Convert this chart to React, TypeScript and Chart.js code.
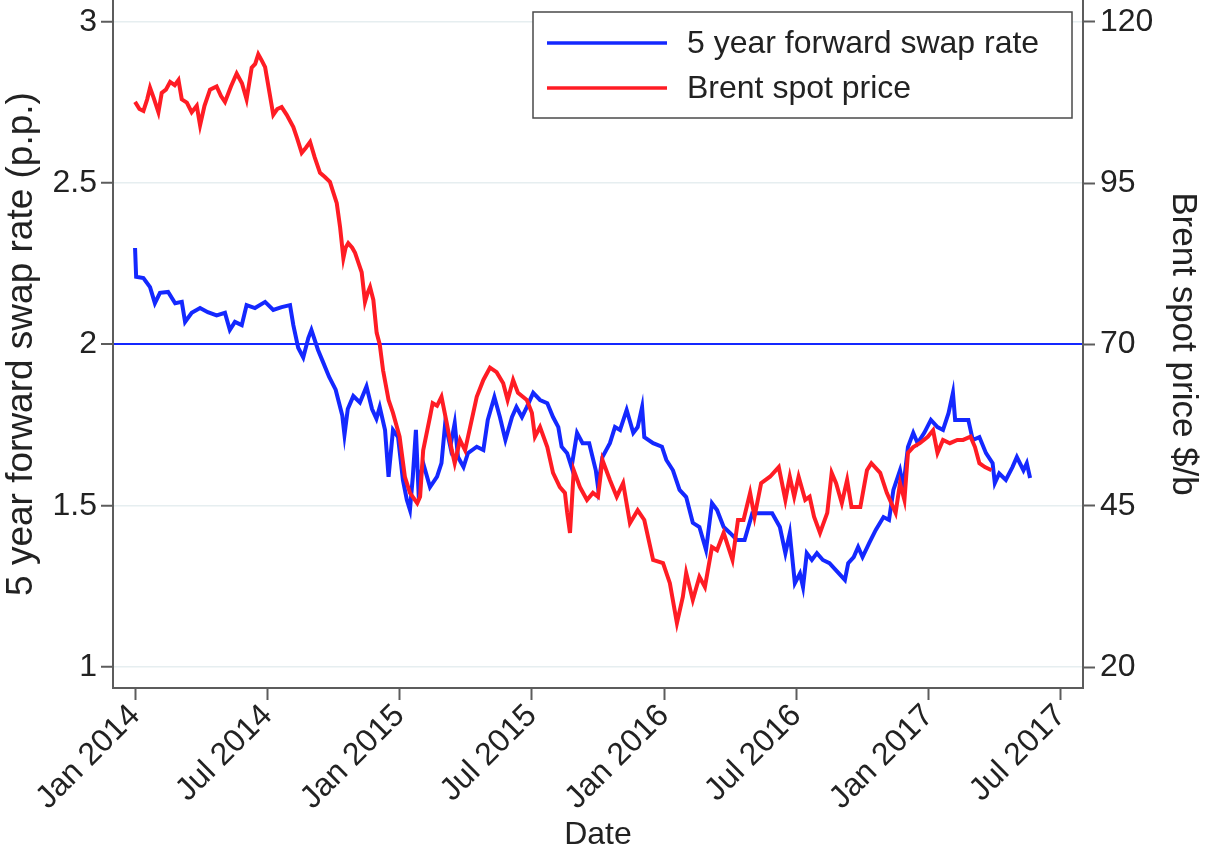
import React, { useEffect, useRef } from "react";
import { Chart, registerables } from "chart.js";

Chart.register(...registerables);

// ---- Data (months since Jan 2014) ----
const xTickMonths = [0, 6, 12, 18, 24, 30, 36, 42];
const xTickLabels = ["Jan 2014", "Jul 2014", "Jan 2015", "Jul 2015", "Jan 2016", "Jul 2016", "Jan 2017", "Jul 2017"];
const leftTicks = [1, 1.5, 2, 2.5, 3];
const rightTicks = [20, 45, 70, 95, 120];
const referenceLevel = 2;
const seriesNames = ["5 year forward swap rate", "Brent spot price"];

const swapMonths = [
  0, 0.05, 0.38, 0.68, 0.9, 1.13, 1.5, 1.82, 2.12, 2.27, 2.57, 2.95, 3.3, 3.7, 4.08, 4.3, 4.53, 4.84, 5.06, 5.44,
  5.9, 6.27, 6.65, 7.03, 7.18, 7.4, 7.63, 7.86, 8.0, 8.3, 8.5, 8.8, 9.1, 9.4, 9.5, 9.65, 9.9, 10.2, 10.5, 10.75,
  10.95, 11.1, 11.34, 11.5, 11.7, 11.93, 12.15, 12.33, 12.47, 12.6, 12.74, 12.85, 13.07, 13.38, 13.7, 13.9, 14.07, 14.3, 14.5, 14.65,
  14.9, 15.1, 15.5, 15.8, 16.0, 16.3, 16.55, 16.8, 17.1, 17.3, 17.55, 17.77, 18.06, 18.37, 18.7, 18.96, 19.2, 19.35, 19.6, 19.8,
  20.05, 20.3, 20.6, 20.9, 21.0, 21.2, 21.54, 21.77, 22.0, 22.3, 22.6, 22.8, 23.0, 23.1, 23.5, 23.9, 24.1, 24.4, 24.7, 25.0,
  25.3, 25.6, 25.9, 26.17, 26.4, 26.7, 27.0, 27.3, 27.65, 28.0, 28.5, 28.9, 29.25, 29.5, 29.7, 29.93, 30.16, 30.3, 30.47, 30.7,
  30.93, 31.2, 31.5, 31.8, 32.2, 32.35, 32.6, 32.8, 33.0, 33.3, 33.6, 33.95, 34.2, 34.4, 34.7, 34.85, 35.06, 35.3, 35.5, 35.8,
  36.1, 36.4, 36.65, 36.9, 37.1, 37.2, 37.5, 37.8, 38.0, 38.3, 38.6, 38.9, 39.0, 39.2, 39.5, 39.8, 40.0, 40.3, 40.45, 40.6,
];
const swapRate = [
  2.299, 2.21, 2.206, 2.178, 2.128, 2.16, 2.163, 2.128, 2.132, 2.07, 2.098, 2.113, 2.1, 2.09, 2.098, 2.045, 2.07, 2.06, 2.122, 2.113,
  2.132, 2.107, 2.116, 2.122, 2.06, 1.99, 1.96, 2.02, 2.045, 1.983, 1.95, 1.9, 1.86, 1.78, 1.72, 1.8, 1.84, 1.82, 1.87, 1.8,
  1.77, 1.806, 1.735, 1.59, 1.735, 1.713, 1.58, 1.518, 1.487, 1.59, 1.735, 1.558, 1.632, 1.558, 1.59, 1.632, 1.756, 1.683, 1.756, 1.651,
  1.62, 1.663, 1.683, 1.673, 1.766, 1.837, 1.775, 1.704, 1.775, 1.806, 1.775, 1.806, 1.85, 1.828, 1.818, 1.775, 1.744, 1.683, 1.663, 1.62,
  1.726, 1.694, 1.694, 1.61, 1.558, 1.651, 1.694, 1.744, 1.735, 1.797, 1.726, 1.744, 1.806, 1.713, 1.694, 1.683, 1.642, 1.61, 1.549, 1.527,
  1.447, 1.434, 1.363, 1.508, 1.487, 1.434, 1.415, 1.394, 1.394, 1.477, 1.477, 1.477, 1.434, 1.353, 1.415, 1.26, 1.29, 1.248, 1.353, 1.332,
  1.353, 1.332, 1.322, 1.3, 1.27, 1.322, 1.341, 1.372, 1.341, 1.384, 1.425, 1.465, 1.456, 1.549, 1.61, 1.558, 1.682, 1.726, 1.694, 1.726,
  1.766, 1.744, 1.735, 1.787, 1.85, 1.766, 1.766, 1.766, 1.704, 1.713, 1.663, 1.632, 1.57, 1.6, 1.58, 1.62, 1.651, 1.61, 1.632, 1.586,
];

const brentMonths = [
  0, 0.2, 0.38, 0.55, 0.68, 0.85, 1.06, 1.21, 1.4, 1.59, 1.8, 1.97, 2.12, 2.35, 2.57, 2.8, 2.95, 3.15, 3.4, 3.7,
  3.9, 4.08, 4.35, 4.61, 4.85, 5.06, 5.29, 5.45, 5.59, 5.75, 5.9, 6.1, 6.27, 6.45, 6.65, 6.88, 7.18, 7.35, 7.56, 7.75,
  7.94, 8.15, 8.39, 8.6, 8.84, 9.0, 9.15, 9.3, 9.45, 9.55, 9.67, 9.85, 9.98, 10.15, 10.28, 10.43, 10.55, 10.66, 10.81, 10.96,
  11.1, 11.25, 11.5, 11.7, 12.0, 12.24, 12.47, 12.8, 12.93, 13.07, 13.38, 13.5, 13.7, 13.9, 14.14, 14.37, 14.5, 14.74, 14.97, 15.2,
  15.5, 15.8, 16.1, 16.4, 16.7, 16.9, 17.15, 17.37, 17.77, 18.0, 18.14, 18.37, 18.7, 18.96, 19.27, 19.5, 19.6, 19.73, 19.9, 20.18,
  20.5, 20.77, 21.0, 21.2, 21.54, 21.85, 22.14, 22.45, 22.8, 23.1, 23.5, 23.95, 24.26, 24.58, 24.85, 25.0, 25.3, 25.6, 25.85, 26.17,
  26.4, 26.7, 27.1, 27.35, 27.6, 27.9, 28.1, 28.4, 28.8, 29.2, 29.5, 29.7, 29.9, 30.1, 30.4, 30.6, 30.8, 31.07, 31.4, 31.6,
  31.8, 32.06, 32.3, 32.5, 32.9, 33.2, 33.4, 33.8, 34.1, 34.5, 34.7, 34.9, 35.06, 35.3, 35.6, 35.96, 36.2, 36.4, 36.65, 36.96,
  37.3, 37.56, 37.9, 38.1, 38.3, 38.55, 38.85,
];
const brentPrice = [
  107.6, 106.5, 106.2, 108, 109.8, 108.2, 106, 109, 109.5, 110.7, 110.2, 111, 108, 107.5, 106, 107, 104, 107, 109.5, 110,
  108.5, 107.6, 110, 112, 110.5, 108, 112.9, 113.5, 115, 114, 113, 109, 105.6, 106.5, 106.8, 105.6, 103.7, 102, 99.7, 100.5,
  101.4, 99, 96.6, 96, 95.2, 93.5, 91.9, 88.2, 83.4, 85, 85.7, 85, 84.2, 82.5, 81.2, 76.6, 78, 78.9, 76.9, 71.8,
  70, 66, 61.4, 59.4, 55.7, 49.5, 47, 45.4, 46.4, 53.6, 58.8, 60.9, 60.5, 61.9, 57.8, 53.6, 51.6, 55.2, 53.6, 57.2,
  61.9, 64.5, 66.4, 65.7, 64, 61.4, 64.5, 62.5, 61.4, 59.4, 55.7, 57.2, 54.1, 50.1, 47.9, 47, 44, 40.8, 50.5, 47.9,
  45.9, 47, 46.4, 52.1, 49, 46.4, 48.5, 42.3, 44.3, 42.8, 36.6, 36.1, 33, 26.8, 30.9, 34.6, 30.4, 34, 32.4, 38.6,
  38.1, 40.8, 36.6, 42.8, 42.8, 47, 43.3, 48.5, 49.5, 51, 45.9, 49.5, 46.4, 49.5, 45.9, 46.4, 43.3, 40.8, 43.9, 50.1,
  48.5, 45.4, 49, 44.8, 44.8, 50.5, 51.6, 50.1, 47, 43.9, 48.5, 45.9, 53.2, 54.1, 54.7, 55.7, 56.7, 53.2, 55.2, 54.7,
  55.2, 55.2, 55.7, 54.1, 51.6, 51, 50.5,
];

const BLUE = "rgb(20, 40, 255)";
const RED = "rgb(255, 28, 36)";
const AXIS = "#5c5c5c";
const TEXT = "#222222";
const GRID = "#e6eef0";
const FONT = "'Liberation Sans', Arial, Helvetica, sans-serif";

const legendBoxPlugin = {
  id: "legendBox",
  afterDraw(chart: any) {
    const { ctx, chartArea } = chart;
    const w = 539;
    const h = 106;
    const x0 = chartArea.right - 11 - w;
    const y0 = chartArea.top + 12;
    ctx.save();
    ctx.fillStyle = "#ffffff";
    ctx.fillRect(x0, y0, w, h);
    ctx.strokeStyle = "#4a4a4a";
    ctx.lineWidth = 1.5;
    ctx.strokeRect(x0, y0, w, h);
    chart.data.datasets.forEach((ds: any, i: number) => {
      const y = y0 + 31 + i * 45;
      ctx.strokeStyle = ds.borderColor;
      ctx.lineWidth = 3.5;
      ctx.beginPath();
      ctx.moveTo(x0 + 14, y);
      ctx.lineTo(x0 + 134, y);
      ctx.stroke();
      ctx.fillStyle = TEXT;
      ctx.font = `32px ${FONT}`;
      ctx.textAlign = "left";
      ctx.textBaseline = "middle";
      ctx.fillText(ds.label, x0 + 154, y + 1);
    });
    ctx.restore();
  },
};

export default function App() {
  const canvasRef = useRef<HTMLCanvasElement | null>(null);

  useEffect(() => {
    const canvas = canvasRef.current;
    if (!canvas) return;
    Chart.defaults.font.family = FONT;
    Chart.defaults.color = TEXT;

    const toRight = (v: number) => 20 + (v - 1) * 50;
    const leftMin = 0.935;
    const leftMax = 3.068;

    const chart = new Chart(canvas, {
      type: "line",
      data: {
        datasets: [
          {
            label: seriesNames[0],
            data: swapMonths.map((m, i) => ({ x: m, y: swapRate[i] })),
            borderColor: BLUE,
            backgroundColor: BLUE,
            borderWidth: 4,
            pointRadius: 0,
            tension: 0,
            yAxisID: "y",
            order: 2,
          },
          {
            label: seriesNames[1],
            data: brentMonths.map((m, i) => ({ x: m, y: brentPrice[i] })),
            borderColor: RED,
            backgroundColor: RED,
            borderWidth: 4,
            pointRadius: 0,
            tension: 0,
            yAxisID: "y1",
            order: 1,
          },
        ],
      },
      options: {
        animation: false,
        responsive: false,
        maintainAspectRatio: false,
        devicePixelRatio: 1,
        layout: { padding: { top: 0, left: 0, right: 0, bottom: 0 } },
        plugins: {
          legend: { display: false },
          tooltip: { enabled: false },
        },
        scales: {
          x: {
            type: "linear",
            min: -1,
            max: 43,
            afterBuildTicks: (scale: any) => {
              scale.ticks = xTickMonths.map((v) => ({ value: v }));
            },
            afterFit: (scale: any) => {
              scale.height = 176;
              scale.paddingLeft = 0;
              scale.paddingRight = 0;
            },
            ticks: {
              autoSkip: false,
              minRotation: 45,
              maxRotation: 45,
              padding: -3,
              font: { size: 32 },
              color: TEXT,
              callback: (v: any) => {
                const idx = xTickMonths.indexOf(Number(v));
                return idx >= 0 ? xTickLabels[idx] : "";
              },
            },
            grid: {
              drawOnChartArea: false,
              drawTicks: true,
              tickLength: 12,
              tickColor: AXIS,
              tickWidth: 2,
            },
            border: { color: AXIS, width: 2 },
            title: {
              display: true,
              text: "Date",
              font: { size: 32 },
              color: TEXT,
              padding: { top: 0, bottom: 10 },
            },
          },
          y: {
            type: "linear",
            position: "left",
            min: leftMin,
            max: leftMax,
            afterBuildTicks: (scale: any) => {
              scale.ticks = leftTicks.map((v) => ({ value: v }));
            },
            afterFit: (scale: any) => {
              scale.width = 113;
              scale.paddingTop = 0;
              scale.paddingBottom = 0;
            },
            ticks: {
              padding: 4,
              font: { size: 32 },
              color: TEXT,
              callback: (v: any) => String(v),
            },
            grid: {
              drawOnChartArea: true,
              color: (c: any) => (c.tick && c.tick.value === referenceLevel ? BLUE : GRID),
              lineWidth: (c: any) => (c.tick && c.tick.value === referenceLevel ? 2 : 1.5),
              tickLength: 12,
              tickColor: AXIS,
              tickWidth: 2,
            },
            border: { color: AXIS, width: 2 },
            title: {
              display: true,
              text: "5 year forward swap rate (p.p.)",
              font: { size: 37 },
              color: TEXT,
              padding: { top: 0, bottom: 0 },
            },
          },
          y1: {
            type: "linear",
            position: "right",
            min: toRight(leftMin),
            max: toRight(leftMax),
            afterBuildTicks: (scale: any) => {
              scale.ticks = rightTicks.map((v) => ({ value: v }));
            },
            afterFit: (scale: any) => {
              scale.width = 123;
              scale.paddingTop = 0;
              scale.paddingBottom = 0;
            },
            ticks: {
              padding: 5,
              font: { size: 32 },
              color: TEXT,
              callback: (v: any) => String(v),
            },
            grid: {
              drawOnChartArea: false,
              tickLength: 12,
              tickColor: AXIS,
              tickWidth: 2,
            },
            border: { color: AXIS, width: 2 },
            title: {
              display: true,
              text: "Brent spot price $/b",
              font: { size: 35 },
              color: TEXT,
              padding: { top: 2, bottom: 0 },
            },
          },
        },
      } as any,
      plugins: [legendBoxPlugin],
    });

    return () => {
      chart.destroy();
    };
  }, []);

  return (
    <div style={{ position: "fixed", left: 0, top: 0, width: 1206, height: 864, background: "#ffffff" }}>
      <canvas ref={canvasRef} width={1206} height={864} style={{ display: "block", width: 1206, height: 864 }} />
    </div>
  );
}
